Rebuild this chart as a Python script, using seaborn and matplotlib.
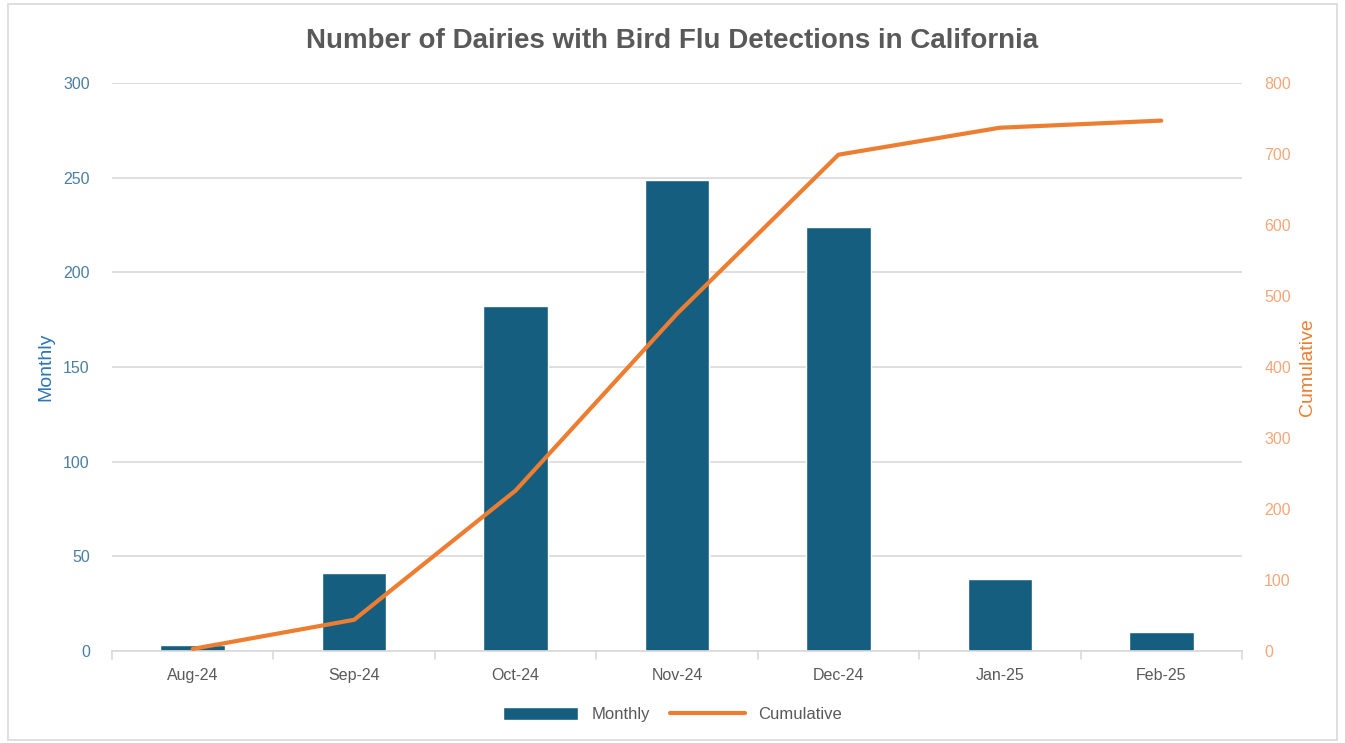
import matplotlib

matplotlib.use("Agg")
import matplotlib.pyplot as plt
import pandas as pd
import seaborn as sns
from matplotlib.patches import Rectangle

months = ["Aug-24", "Sep-24", "Oct-24", "Nov-24", "Dec-24", "Jan-25", "Feb-25"]
monthly = [3, 41, 182, 249, 224, 38, 10]
cumulative = [3, 44, 226, 475, 699, 737, 747]

df = pd.DataFrame({"month": months, "Monthly": monthly, "Cumulative": cumulative})

bar_color = "#165E80"
line_color = "#ED7D31"
grid_color = "#D9D9D9"

sns.set_theme(style="white")
plt.rcParams["font.family"] = ["Liberation Sans", "DejaVu Sans"]

fig = plt.figure(figsize=(13.45, 7.43), dpi=100)
ax = fig.add_axes([0.0833, 0.1238, 0.8401, 0.7645])

sns.barplot(data=df, x="month", y="Monthly", color=bar_color, width=0.4,
            saturation=1, ax=ax, label="Monthly", zorder=2)
ax.set_ylim(0, 300)
ax.set_yticks(range(0, 301, 50))
ax.yaxis.grid(True, color=grid_color, linewidth=1.2, zorder=0)
ax.set_axisbelow(True)
for s in ["top", "right", "left"]:
    ax.spines[s].set_visible(False)
ax.spines["bottom"].set_color(grid_color)
ax.spines["bottom"].set_linewidth(1.2)
ax.tick_params(axis="y", colors="#4A7FA0", labelsize=11.5, length=0, pad=16)
ax.tick_params(axis="x", colors="#595959", labelsize=11.5, length=0, pad=12)
ax.set_xlabel("")
ax.set_ylabel("Monthly", color="#2E75B6", fontsize=14, labelpad=6)
ax.set_xlim(-0.5, len(months) - 0.5)
for i in range(len(months) + 1):
    ax.plot([i - 0.5, i - 0.5], [0, -4], color=grid_color, lw=1.2, clip_on=False)

ax2 = ax.twinx()
sns.lineplot(data=df, x="month", y="Cumulative", color=line_color, linewidth=3,
             ax=ax2, label="Cumulative", zorder=3)
ax2.set_ylim(0, 800)
ax2.set_yticks(range(0, 801, 100))
for s in ["top", "right", "left", "bottom"]:
    ax2.spines[s].set_visible(False)
ax2.tick_params(axis="y", colors="#F4A77A", labelsize=11.5, length=0, pad=16)
ax2.set_ylabel("Cumulative", color=line_color, fontsize=14, labelpad=6)
ax2.set_xlabel("")

h1, l1 = ax.get_legend_handles_labels()
h2, l2 = ax2.get_legend_handles_labels()
for a in (ax, ax2):
    if a.get_legend() is not None:
        a.get_legend().remove()
fig.legend(h1 + h2, l1 + l2, loc="center", bbox_to_anchor=(0.5, 0.038), ncol=2,
           frameon=False, fontsize=12, labelcolor="#595959", handlelength=4.5,
           handleheight=0.8, columnspacing=1.2)

fig.text(0.5, 0.945, "Number of Dairies with Bird Flu Detections in California",
         ha="center", va="center", fontsize=20, fontweight="bold", color="#595959")

fig.patches.append(Rectangle((0.006, 0.004), 0.988, 0.99, transform=fig.transFigure,
                             fill=False, edgecolor="#D9D9D9", lw=1.2))

fig.savefig("out.png", dpi=100)
